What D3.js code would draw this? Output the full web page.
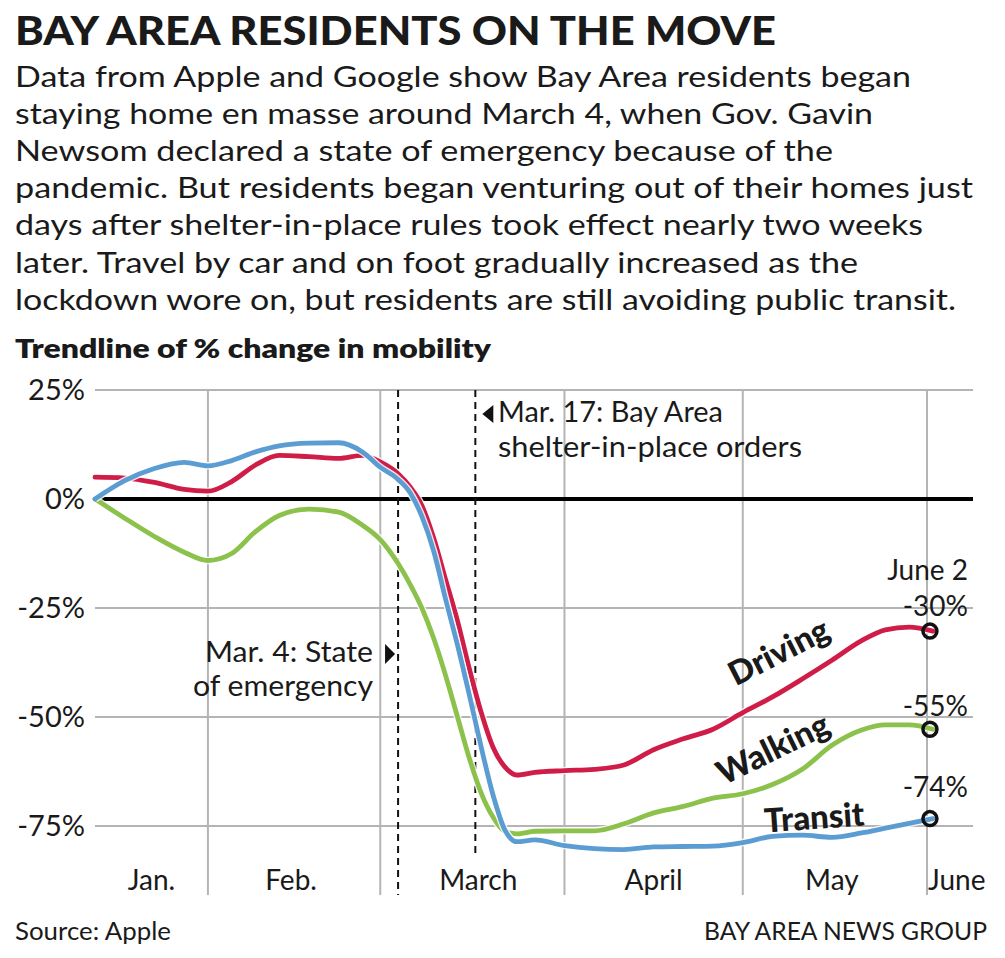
<!DOCTYPE html>
<html>
<head>
<meta charset="utf-8">
<script src="https://cdn.jsdelivr.net/npm/d3@7"></script>
<style>
  html, body { margin: 0; padding: 0; background: #fff; }
  svg { display: block; }
  text { font-family: Lato, "Open Sans", sans-serif; fill: #1a1a1a; }
</style>
</head>
<body>
<svg id="chart" width="1005" height="958"></svg>
<script>
// ---------------- DATA ----------------
const dates = ["2020-01-13","2020-01-18","2020-01-23","2020-01-28","2020-02-01","2020-02-05","2020-02-09",
  "2020-02-13","2020-02-18","2020-02-23","2020-02-27","2020-03-01","2020-03-04","2020-03-06","2020-03-08",
  "2020-03-10","2020-03-12","2020-03-14","2020-03-16","2020-03-18","2020-03-20","2020-03-22","2020-03-24",
  "2020-03-27","2020-04-01","2020-04-06","2020-04-11","2020-04-16","2020-04-21","2020-04-26","2020-05-01",
  "2020-05-06","2020-05-11","2020-05-16","2020-05-21","2020-05-25","2020-05-29","2020-06-02"];

const driving = [5.0, 4.8, 3.8, 2.2, 1.8, 4.0, 7.8, 10.0, 9.7, 9.3, 10.0, 8.5, 5.8, 2.8, -1.5,
  -9, -18.5, -28, -39, -49, -57, -61.5, -63.3, -62.7, -62.3, -62, -61, -57.5, -55, -52.8, -49,
  -45.4, -41.3, -37, -32.5, -30, -29.4, -30.3];

const walking = [0, -4.4, -8.6, -12.2, -14.1, -12.5, -7.5, -3.8, -2.3, -3.0, -6.0, -9.3, -14.8, -19.5, -25,
  -32, -40.5, -50, -59.5, -67.5, -73, -76.3, -76.8, -76.2, -76.1, -76.1, -74.5, -72, -70.5, -68.6, -67.6,
  -65.5, -62, -56.5, -53, -51.8, -51.8, -52.8];

const transit = [0, 4.2, 7.0, 8.4, 7.6, 8.8, 10.8, 12.2, 12.8, 12.9, 10.8, 7.3, 4.5, 1.5, -4,
  -12, -23, -33.5, -45, -57, -68, -76, -78.6, -78.2, -79.5, -80.2, -80.4, -79.8, -79.7, -79.6, -78.8,
  -77.4, -77.1, -77.6, -76.6, -75.5, -74.4, -73.3];

const seriesNames = ["Walking", "Driving", "Transit"];
const endLabels = ["-55%", "-30%", "-74%"];
const yTicks = [25, 0, -25, -50, -75];
const monthStarts = ["2020-02-01","2020-03-01","2020-04-01","2020-05-01","2020-06-01"];
const monthLabels = ["Jan.", "Feb.", "March", "April", "May", "June"];
const monthLabelDates = ["2020-01-22T12","2020-02-15","2020-03-17T12","2020-04-16","2020-05-16","2020-06-06"];
const eventDates = ["2020-03-04", "2020-03-17"];

// ---------------- LAYOUT ----------------
const svg = d3.select("#chart");
const parse = s => s.length > 10 ? d3.utcParse("%Y-%m-%dT%H")(s) : d3.utcParse("%Y-%m-%d")(s);

const plotLeft = 95, plotRight = 973, plotTop = 390, gridBottom = 895;
const x = d3.scaleUtc().domain([parse("2020-01-13"), parse("2020-06-01")]).range([95, 927]);
const y = d3.scaleLinear().domain([25, -75]).range([390, 826]);

const colors = { Driving: "#cf1d48", Walking: "#8cc14c", Transit: "#5b9cd2" };
const values = { Driving: driving, Walking: walking, Transit: transit };

function addText(g, str, attrs) {
  const t = g.append("text").text(str);
  Object.entries(attrs).forEach(([k, v]) => t.attr(k, v));
  return t;
}

// ---------------- HEADER ----------------
addText(svg, "BAY AREA RESIDENTS ON THE MOVE", {
  x: 15, y: 45, "font-size": 40, "font-weight": 900, textLength: 761, lengthAdjust: "spacingAndGlyphs"
});

const subLines = [
  "Data from Apple and Google show Bay Area residents began",
  "staying home en masse around March 4, when Gov. Gavin",
  "Newsom declared a state of emergency because of the",
  "pandemic. But residents began venturing out of their homes just",
  "days after shelter-in-place rules took effect nearly two weeks",
  "later. Travel by car and on foot gradually increased as the",
  "lockdown wore on, but residents are still avoiding public transit."
];
const subWidths = [896, 858, 818, 958, 908, 843, 941];
subLines.forEach((s, i) => {
  addText(svg, s, {
    x: 15, y: 87 + i * 37.1, "font-size": 29.5, textLength: subWidths[i], lengthAdjust: "spacingAndGlyphs"
  });
});

addText(svg, "Trendline of % change in mobility", {
  x: 15, y: 358, "font-size": 27, "font-weight": 800, textLength: 476, lengthAdjust: "spacingAndGlyphs"
});

// ---------------- GRID ----------------
const grid = svg.append("g");
grid.selectAll("line.h").data(yTicks.filter(v => v !== 0)).join("line")
  .attr("x1", plotLeft).attr("x2", plotRight)
  .attr("y1", d => y(d)).attr("y2", d => y(d))
  .attr("stroke", "#b4b4b4").attr("stroke-width", 2);

grid.selectAll("line.v").data(monthStarts).join("line")
  .attr("x1", d => x(parse(d))).attr("x2", d => x(parse(d)))
  .attr("y1", plotTop).attr("y2", gridBottom)
  .attr("stroke", "#b4b4b4").attr("stroke-width", 2);

// y tick labels
svg.append("g").selectAll("text").data(yTicks).join("text")
  .attr("x", 85).attr("y", d => y(d) + 10)
  .attr("text-anchor", "end").attr("font-size", 29)
  .text(d => d + "%");

// month labels
svg.append("g").selectAll("text").data(monthLabels).join("text")
  .attr("x", (d, i) => x(parse(monthLabelDates[i])))
  .attr("y", 890).attr("text-anchor", "middle").attr("font-size", 28)
  .text(d => d);

// zero line
svg.append("line")
  .attr("x1", plotLeft).attr("x2", plotRight)
  .attr("y1", y(0)).attr("y2", y(0))
  .attr("stroke", "#000").attr("stroke-width", 4);

// event dashed lines
const evBottoms = [gridBottom, 858];
svg.append("g").selectAll("line").data(eventDates).join("line")
  .attr("x1", d => x(parse(d))).attr("x2", d => x(parse(d)))
  .attr("y1", plotTop).attr("y2", (d, i) => evBottoms[i])
  .attr("stroke", "#111").attr("stroke-width", 2).attr("stroke-dasharray", "7,5");

// ---------------- SERIES ----------------
const line = d3.line()
  .x((d, i) => x(parse(dates[i])))
  .y(d => y(d))
  .curve(d3.curveMonotoneX);

const sg = svg.append("g");
seriesNames.forEach(name => {
  sg.append("path").datum(values[name]).attr("d", line)
    .attr("fill", "none").attr("stroke", "#fff").attr("stroke-width", 7.5)
    .attr("stroke-linejoin", "round").attr("stroke-opacity", 0.85);
  sg.append("path").datum(values[name]).attr("d", line)
    .attr("fill", "none").attr("stroke", colors[name]).attr("stroke-width", 4.8)
    .attr("stroke-linejoin", "round").attr("stroke-linecap", "round");
});

// end circles + labels
const lastDate = parse(dates[dates.length - 1]);
const labelDy = { Driving: -15, Walking: -13, Transit: -22 };
seriesNames.forEach((name, i) => {
  const v = values[name][values[name].length - 1];
  const cx = x(lastDate) - 3, cy = y(v);
  svg.append("circle").attr("cx", cx).attr("cy", cy).attr("r", 7)
    .attr("fill", "none").attr("stroke", "#111").attr("stroke-width", 3.5);
  addText(svg, endLabels[i], { x: 968, y: cy + labelDy[name], "text-anchor": "end", "font-size": 28 });
});
addText(svg, "June 2", { x: 968, y: 580, "text-anchor": "end", "font-size": 28 });

// series labels
addText(svg, "Driving", { transform: "translate(784,662) rotate(-27)", "text-anchor": "middle",
  "font-size": 33, "font-weight": 900 });
addText(svg, "Walking", { transform: "translate(778,759) rotate(-26)", "text-anchor": "middle",
  "font-size": 33, "font-weight": 900 });
addText(svg, "Transit", { transform: "translate(815,829) rotate(-4)", "text-anchor": "middle",
  "font-size": 33, "font-weight": 900 });

// ---------------- ANNOTATIONS ----------------
const ev17 = x(parse("2020-03-17"));
svg.append("path")
  .attr("d", d3.line()([[ev17 + 7, 414], [ev17 + 18, 405], [ev17 + 18, 423]]) + "Z")
  .attr("fill", "#111");
addText(svg, "Mar. 17: Bay Area", { x: 498, y: 422, "font-size": 28, textLength: 225, lengthAdjust: "spacingAndGlyphs" });
addText(svg, "shelter-in-place orders", { x: 498, y: 457, "font-size": 28, textLength: 304, lengthAdjust: "spacingAndGlyphs" });

const ev4 = x(parse("2020-03-04"));
svg.append("path")
  .attr("d", d3.line()([[ev4 - 3, 654], [ev4 - 13, 644], [ev4 - 13, 664]]) + "Z")
  .attr("fill", "#111");
addText(svg, "Mar. 4: State", { x: 373, y: 662, "text-anchor": "end", "font-size": 28.5,
  textLength: 168, lengthAdjust: "spacingAndGlyphs" });
addText(svg, "of emergency", { x: 373, y: 696, "text-anchor": "end", "font-size": 28.5,
  textLength: 180, lengthAdjust: "spacingAndGlyphs" });

// ---------------- FOOTER ----------------
addText(svg, "Source: Apple", { x: 15, y: 940, "font-size": 25, textLength: 156, lengthAdjust: "spacingAndGlyphs" });
addText(svg, "BAY AREA NEWS GROUP", { x: 987, y: 940, "text-anchor": "end", "font-size": 25,
  textLength: 283, lengthAdjust: "spacingAndGlyphs" });
</script>
</body>
</html>
